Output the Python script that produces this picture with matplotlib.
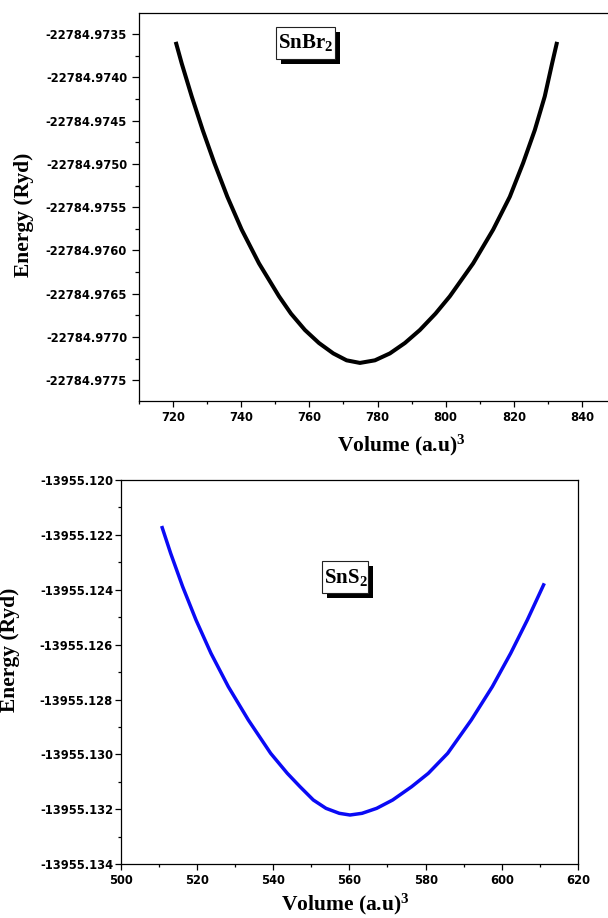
import matplotlib
matplotlib.use("Agg")
import matplotlib.pyplot as plt
from matplotlib.ticker import FixedLocator, FormatStrFormatter
from matplotlib.patches import Rectangle

# ---------------- data ----------------
snbr2_volume = [720.78, 722.54, 725.47, 728.70, 732.12, 735.93, 740.14, 745.22,
                751.09, 754.60, 758.71, 762.82, 767.02, 770.93, 774.84, 779.24,
                783.64, 788.04, 792.43, 797.03, 801.23, 808.07, 813.94, 818.83,
                822.74, 826.16, 829.09, 831.24, 832.71]
snbr2_energy = [-22784.97359, -22784.97384, -22784.97422, -22784.97461,
                -22784.97499, -22784.97538, -22784.97576, -22784.97615,
                -22784.97653, -22784.97673, -22784.97692, -22784.97707,
                -22784.97719, -22784.97727, -22784.97730, -22784.97727,
                -22784.97719, -22784.97707, -22784.97692, -22784.97673,
                -22784.97653, -22784.97615, -22784.97576, -22784.97538,
                -22784.97499, -22784.97461, -22784.97422, -22784.97384,
                -22784.97359]

sns2_volume = [510.75, 513.11, 516.26, 519.76, 523.69, 528.24, 533.49, 539.35,
               543.72, 547.05, 550.55, 553.87, 557.37, 560.17, 563.32, 567.17,
               571.36, 576.35, 580.72, 585.80, 592.00, 597.52, 602.33, 606.70,
               611.16]
sns2_energy = [-13955.121676, -13955.122671, -13955.123886, -13955.125100,
               -13955.126314, -13955.127529, -13955.128743, -13955.129957,
               -13955.130686, -13955.131172, -13955.131658, -13955.131961,
               -13955.132143, -13955.132204, -13955.132143, -13955.131961,
               -13955.131658, -13955.131172, -13955.130686, -13955.129957,
               -13955.128743, -13955.127529, -13955.126314, -13955.125100,
               -13955.123764]

top_xticks = [720, 740, 760, 780, 800, 820, 840]
top_xminor = [710, 730, 750, 770, 790, 810, 830, 850]
top_yticks = [-22784.9775, -22784.9770, -22784.9765, -22784.9760, -22784.9755,
              -22784.9750, -22784.9745, -22784.9740, -22784.9735]
top_yminor = [-22784.97725, -22784.97675, -22784.97625, -22784.97575,
              -22784.97525, -22784.97475, -22784.97425, -22784.97375,
              -22784.97325]
bot_xticks = [500, 520, 540, 560, 580, 600, 620]
bot_xminor = [510, 530, 550, 570, 590, 610]
bot_yticks = [-13955.134, -13955.132, -13955.130, -13955.128, -13955.126,
              -13955.124, -13955.122, -13955.120]
bot_yminor = [-13955.133, -13955.131, -13955.129, -13955.127, -13955.125,
              -13955.123, -13955.121]

top_label = "SnBr$_2$"
bot_label = "SnS$_2$"
xlabel_text = "Volume (a.u)$^{3}$"
ylabel_text = "Energy (Ryd)"

# ---------------- style ----------------
plt.rcParams["font.family"] = "DejaVu Sans"
plt.rcParams["font.weight"] = "bold"
plt.rcParams["mathtext.fontset"] = "custom"
plt.rcParams["mathtext.rm"] = "Liberation Serif:bold"
plt.rcParams["mathtext.bf"] = "Liberation Serif:bold"
plt.rcParams["mathtext.it"] = "Liberation Serif:bold"
plt.rcParams["mathtext.default"] = "bf"

W, H = 608, 918
fig = plt.figure(figsize=(W / 100, H / 100), dpi=100)
fig.patch.set_facecolor("white")


def px_axes(l, t, r, b):
    return fig.add_axes([l / W, 1 - b / H, (r - l) / W, (b - t) / H])


LABEL_FONT = dict(fontfamily="Liberation Serif", fontweight="bold", fontsize=15.5)


def style_axes(ax, xt, xm, yt, ym, yfmt, ylen, ypad):
    ax.xaxis.set_major_locator(FixedLocator(xt))
    ax.xaxis.set_minor_locator(FixedLocator(xm))
    ax.yaxis.set_major_locator(FixedLocator(yt))
    ax.yaxis.set_minor_locator(FixedLocator(ym))
    ax.yaxis.set_major_formatter(FormatStrFormatter(yfmt))
    ax.xaxis.set_major_formatter(FormatStrFormatter("%d"))
    ax.tick_params(axis="x", which="major", direction="out", length=4.0,
                   width=0.9, labelsize=8.3, pad=3.2)
    ax.tick_params(axis="x", which="minor", direction="out", length=1.9,
                   width=0.9)
    ax.tick_params(axis="y", which="major", direction="out", length=ylen,
                   width=0.9, labelsize=8.3, pad=ypad)
    ax.tick_params(axis="y", which="minor", direction="out", length=ylen * 0.55,
                   width=0.9)
    for s in ax.spines.values():
        s.set_linewidth(0.9)
        s.set_color("black")


# ---------------- top panel: SnBr2 ----------------
ax1 = px_axes(139, 13.3, 616, 401)
ax1.plot(snbr2_volume, snbr2_energy, color="black", lw=2.9,
         solid_capstyle="butt", solid_joinstyle="round")
ax1.set_xlim(710, 850)
ax1.set_ylim(-22784.97774, -22784.97326)
style_axes(ax1, top_xticks, top_xminor, top_yticks, top_yminor, "%.4f", 5.0, 3.6)
ax1.set_ylabel(ylabel_text, **LABEL_FONT)
ax1.yaxis.set_label_coords(-0.2407, 0.4797)
ax1.yaxis.label.set_va("center")
ax1.set_xlabel(xlabel_text, **LABEL_FONT)
ax1.xaxis.set_label_coords(0.549, -0.129)
ax1.xaxis.label.set_va("baseline")

# ---------------- bottom panel: SnS2 ----------------
ax2 = px_axes(120.7, 480, 578, 864.3)
ax2.plot(sns2_volume, sns2_energy, color="#0A0AF5", lw=2.5,
         solid_capstyle="butt", solid_joinstyle="round")
ax2.set_xlim(500, 620)
ax2.set_ylim(-13955.134, -13955.120)
style_axes(ax2, bot_xticks, bot_xminor, bot_yticks, bot_yminor, "%.3f", 4.2, 1.3)
ax2.set_ylabel(ylabel_text, **LABEL_FONT)
ax2.yaxis.set_label_coords(-0.2427, 0.5576)
ax2.yaxis.label.set_va("center")
ax2.set_xlabel(xlabel_text, **LABEL_FONT)
ax2.xaxis.set_label_coords(0.4905, -0.1205)
ax2.xaxis.label.set_va("baseline")


# ---------------- boxed labels with drop shadow ----------------
def shadow_box(x0, y0, x1, y1, text, tx, ty, off=5):
    fig.add_artist(Rectangle(((x0 + off) / W, 1 - (y1 + off) / H),
                             (x1 - x0) / W, (y1 - y0) / H,
                             transform=fig.transFigure, facecolor="black",
                             edgecolor="black", lw=0, zorder=5))
    fig.add_artist(Rectangle((x0 / W, 1 - y1 / H), (x1 - x0) / W, (y1 - y0) / H,
                             transform=fig.transFigure, facecolor="white",
                             edgecolor="#222222", lw=0.8, zorder=6))
    fig.text(tx / W, 1 - ty / H, text, ha="center", va="baseline",
             fontsize=15, fontfamily="Liberation Serif", fontweight="bold",
             zorder=7)


shadow_box(276.4, 26.7, 335.3, 59.3, top_label, 306.0, 48.3, off=5)
shadow_box(321.7, 560.7, 368.2, 593.3, bot_label, 345.5, 583.3, off=5)

fig.savefig("out.png", dpi=100, facecolor="white")
